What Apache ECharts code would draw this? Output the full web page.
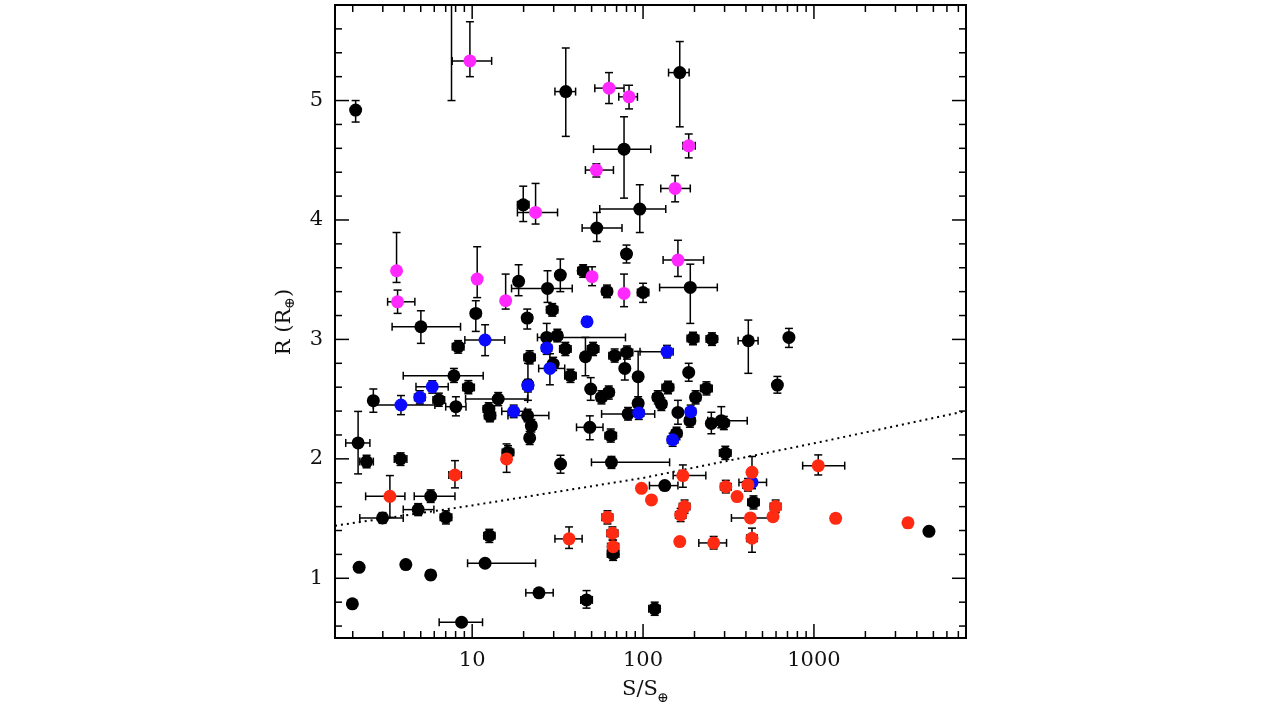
<!DOCTYPE html>
<html>
<head>
<meta charset="utf-8">
<script src="https://cdn.jsdelivr.net/npm/echarts@6/dist/echarts.min.js"></script>
<style>
  html, body { margin: 0; padding: 0; background: #fff; }
  #chart { width: 1279px; height: 714px; }
</style>
</head>
<body>
<div id="chart"></div>
<script>
// each row: [S, R, S low, S high, R low, R high]  (0 = no error bar drawn)
var blackPts = [
  [2.08, 4.92, 0, 0, 4.82, 5.00],
  [7.57, 6.30, 0, 0, 5.00, 6.60],
  [35.3, 5.075, 30.5, 40.3, 4.70, 5.44],
  [77.4, 4.593, 51.3, 110.9, 4.183, 4.864],
  [19.9, 4.127, 18.4, 21.5, 3.987, 4.283],
  [95.7, 4.091, 55.8, 135.8, 3.895, 4.295],
  [53.6, 3.932, 44.0, 75.3, 3.82, 4.063],
  [164, 5.234, 141, 186, 4.78, 5.494],
  [80, 3.715, 75, 85, 3.64, 3.79],
  [5.01, 3.106, 3.40, 8.55, 2.967, 3.24],
  [10.5, 3.218, 9.9, 11.2, 3.067, 3.324],
  [18.7, 3.486, 17.6, 19.8, 3.366, 3.625],
  [27.6, 3.427, 17.0, 38.5, 3.31, 3.575],
  [32.8, 3.539, 31.0, 34.6, 3.40, 3.673],
  [44.6, 3.575, 41.5, 47.8, 3.52, 3.625],
  [61.5, 3.402, 57.5, 65.5, 3.35, 3.455],
  [100, 3.393, 92.7, 108, 3.31, 3.47],
  [29.4, 3.248, 27.2, 31.7, 3.195, 3.30],
  [21.0, 3.179, 19.7, 22.4, 3.087, 3.254],
  [8.28, 2.939, 7.65, 8.95, 2.885, 2.99],
  [27.3, 3.017, 24.1, 78.9, 2.93, 3.134],
  [31.5, 3.031, 29.5, 33.6, 2.98, 3.085],
  [35.1, 2.92, 32.5, 37.9, 2.865, 2.975],
  [51.0, 2.92, 47.2, 55.1, 2.865, 2.975],
  [46.0, 2.855, 43.5, 48.6, 2.696, 3.017],
  [21.7, 2.849, 20.1, 23.4, 2.795, 2.905],
  [68.2, 2.864, 63.1, 73.7, 2.81, 2.92],
  [80.5, 2.891, 74.5, 87.0, 2.835, 2.945],
  [29.8, 2.794, 28.0, 31.7, 2.74, 2.85],
  [78.2, 2.757, 74.5, 82.0, 2.66, 2.88],
  [37.6, 2.696, 34.8, 40.6, 2.64, 2.75],
  [93.6, 2.688, 0, 0, 2.49, 2.90],
  [7.82, 2.696, 3.95, 11.6, 2.64, 2.757],
  [9.5, 2.598, 8.8, 10.3, 2.545, 2.655],
  [6.38, 2.493, 5.9, 6.9, 2.44, 2.55],
  [2.64, 2.487, 0, 0, 2.39, 2.585],
  [8.03, 2.437, 7.0, 9.2, 2.36, 2.52],
  [14.2, 2.501, 9.15, 21.1, 2.445, 2.555],
  [12.5, 2.417, 11.6, 13.5, 2.36, 2.47],
  [12.7, 2.362, 11.8, 13.7, 2.31, 2.415],
  [21.2, 2.621, 0, 0, 2.49, 2.80],
  [21.1, 2.362, 16.2, 28.1, 2.31, 2.415],
  [22.2, 2.278, 20.8, 23.7, 2.225, 2.33],
  [21.7, 2.175, 0, 0, 2.12, 2.23],
  [48.8, 2.264, 40.8, 58.3, 2.16, 2.36],
  [64.7, 2.194, 59.9, 69.9, 2.14, 2.25],
  [49.4, 2.585, 0, 0, 2.49, 2.68],
  [57.1, 2.515, 53.5, 61, 2.46, 2.57],
  [63.0, 2.557, 59, 67.3, 2.50, 2.61],
  [81.7, 2.376, 57.2, 117, 2.325, 2.43],
  [93.6, 2.465, 88, 99.5, 2.41, 2.52],
  [2.15, 2.133, 1.82, 2.52, 1.874, 2.397],
  [189, 3.435, 125, 272, 3.134, 3.63],
  [196, 3.008, 181, 212, 2.955, 3.06],
  [253, 3.003, 234, 273, 2.95, 3.055],
  [413, 2.989, 360, 471, 2.716, 3.162],
  [714, 3.017, 0, 0, 2.933, 3.092],
  [185, 2.724, 0, 0, 2.65, 2.80],
  [611, 2.618, 0, 0, 2.55, 2.69],
  [140, 2.598, 129, 151, 2.545, 2.65],
  [235, 2.59, 217, 254, 2.535, 2.645],
  [122, 2.515, 114, 130, 2.46, 2.57],
  [128, 2.459, 120, 137, 2.405, 2.51],
  [203, 2.515, 190, 217, 2.46, 2.57],
  [160, 2.389, 0, 0, 2.29, 2.49],
  [188, 2.32, 176, 201, 2.265, 2.375],
  [251, 2.297, 0, 0, 2.21, 2.39],
  [287, 2.32, 239, 407, 2.26, 2.437],
  [297, 2.30, 278, 318, 2.245, 2.355],
  [157, 2.213, 147, 168, 2.16, 2.265],
  [2.41, 1.977, 2.2, 2.64, 1.925, 2.03],
  [3.81, 1.999, 3.5, 4.15, 1.945, 2.05],
  [16.2, 2.054, 15.0, 17.5, 2.0, 2.11],
  [32.9, 1.957, 0, 0, 1.88, 2.03],
  [65.3, 1.971, 49.9, 143, 1.92, 2.02],
  [5.72, 1.686, 4.58, 7.93, 1.635, 1.74],
  [4.83, 1.575, 3.95, 5.97, 1.525, 1.625],
  [2.99, 1.505, 2.20, 3.95, 1.46, 1.55],
  [7.02, 1.51, 6.5, 7.6, 1.455, 1.565],
  [12.6, 1.357, 11.7, 13.6, 1.30, 1.41],
  [66.8, 1.204, 61.8, 72.2, 1.15, 1.26],
  [2.18, 1.092, 0, 0, 0, 0],
  [4.09, 1.115, 0, 0, 0, 0],
  [5.72, 1.028, 0, 0, 0.99, 1.065],
  [11.9, 1.126, 9.4, 23.5, 0, 0],
  [1.99, 0.786, 0, 0, 0, 0],
  [8.67, 0.632, 6.41, 11.5, 0, 0],
  [24.6, 0.878, 20.6, 29.8, 0, 0],
  [46.7, 0.819, 43.2, 50.5, 0.75, 0.897],
  [117, 0.744, 108, 126, 0.69, 0.80],
  [303, 2.049, 280, 327, 1.995, 2.105],
  [134, 1.776, 109, 160, 0, 0],
  [443, 1.636, 410, 478, 1.58, 1.69],
  [4710, 1.393, 0, 0, 0, 0]
];

var magentaPts = [
  [9.7, 5.332, 7.64, 13.0, 5.20, 5.66],
  [63.2, 5.104, 52.2, 77.4, 4.975, 5.234],
  [82.8, 5.031, 72.1, 92.7, 4.93, 5.128],
  [53.3, 4.418, 46.0, 67.1, 4.36, 4.47],
  [23.5, 4.063, 18.4, 31.6, 3.966, 4.306],
  [185, 4.621, 171, 202, 4.52, 4.72],
  [154, 4.264, 127, 189, 4.152, 4.372],
  [3.61, 3.575, 0, 0, 3.477, 3.895],
  [3.66, 3.315, 3.20, 4.62, 3.218, 3.413],
  [10.7, 3.505, 0, 0, 3.35, 3.776],
  [15.7, 3.324, 14.9, 16.6, 3.254, 3.547],
  [50.3, 3.525, 0, 0, 3.45, 3.608],
  [77.4, 3.385, 0, 0, 3.274, 3.547],
  [160, 3.664, 131, 226, 3.527, 3.83]
];

var bluePts = [
  [47.0, 3.148, 44.5, 49.6, 3.11, 3.19],
  [11.9, 2.995, 9.06, 15.5, 2.864, 3.123],
  [27.3, 2.928, 25.5, 29.2, 2.875, 2.98],
  [28.5, 2.757, 24.5, 34.8, 2.62, 2.88],
  [5.84, 2.604, 4.69, 7.24, 2.55, 2.654],
  [4.94, 2.515, 4.6, 5.3, 2.46, 2.57],
  [3.83, 2.451, 2.64, 6.05, 2.37, 2.53],
  [21.2, 2.613, 19.8, 22.7, 2.56, 2.665],
  [17.5, 2.398, 14.9, 20.5, 2.345, 2.45],
  [94.4, 2.384, 88, 101, 2.33, 2.44],
  [138, 2.897, 96, 150, 2.845, 2.95],
  [190, 2.395, 178, 203, 2.34, 2.45],
  [149, 2.16, 139, 160, 2.105, 2.215],
  [434, 1.803, 364, 528, 1.75, 1.855]
];

var redPts = [
  [7.93, 1.865, 7.3, 8.65, 1.757, 1.985],
  [15.9, 1.999, 15.0, 16.9, 1.887, 2.125],
  [3.30, 1.686, 2.38, 4.04, 1.51, 1.86],
  [36.9, 1.33, 30.5, 44.0, 1.25, 1.43],
  [61.9, 1.51, 57.5, 66.5, 1.455, 1.565],
  [66.2, 1.377, 61.5, 71.2, 1.32, 1.43],
  [66.8, 1.265, 62, 72, 1.21, 1.32],
  [97.9, 1.753, 0, 0, 0, 0],
  [112, 1.656, 0, 0, 0, 0],
  [171, 1.86, 150, 233, 1.762, 1.949],
  [175, 1.6, 163, 188, 1.545, 1.655],
  [166, 1.53, 155, 178, 1.475, 1.585],
  [164, 1.307, 0, 0, 0, 0],
  [259, 1.296, 212, 308, 1.245, 1.35],
  [305, 1.767, 284, 328, 1.715, 1.82],
  [355, 1.684, 0, 0, 0, 0],
  [434, 1.887, 0, 0, 1.78, 2.02],
  [411, 1.782, 383, 441, 1.73, 1.835],
  [425, 1.505, 329, 551, 0, 0],
  [434, 1.335, 404, 466, 1.218, 1.42],
  [597, 1.6, 555, 641, 1.55, 1.655],
  [576, 1.516, 0, 0, 0, 0],
  [1060, 1.943, 859, 1514, 1.865, 2.033],
  [1340, 1.502, 0, 0, 1.465, 1.54],
  [3550, 1.464, 0, 0, 1.425, 1.50]
];

// dotted boundary
var lineS = [1.575, 10, 100, 1000, 7760];
var lineR = [1.44, 1.61, 1.84, 2.13, 2.40];

var xMin = 1.575, xMax = 7760, yMin = 0.5, yMax = 5.8;
var xMajor = [10, 100, 1000];
var xMinor = [2, 3, 4, 5, 6, 7, 8, 9, 20, 30, 40, 50, 60, 70, 80, 90,
  200, 300, 400, 500, 600, 700, 800, 900, 2000, 3000, 4000, 5000, 6000, 7000];
var yMajor = [1, 2, 3, 4, 5];
var yMinor = [0.6, 0.8, 1.2, 1.4, 1.6, 1.8, 2.2, 2.4, 2.6, 2.8, 3.2, 3.4, 3.6, 3.8,
  4.2, 4.4, 4.6, 4.8, 5.2, 5.4, 5.6];

var FONT = 'DejaVu Serif';

function renderErr(params, api) {
  var s = api.value(0), r = api.value(1);
  var sLo = api.value(2), sHi = api.value(3), rLo = api.value(4), rHi = api.value(5);
  var cap = 4;
  var st = { stroke: '#000', lineWidth: 1.5 };
  var ch = [];
  function seg(x1, y1, x2, y2) {
    ch.push({ type: 'line', shape: { x1: x1, y1: y1, x2: x2, y2: y2 }, style: st });
  }
  if (sLo > 0 && sHi > 0) {
    var a = api.coord([sLo, r]), b = api.coord([sHi, r]);
    seg(a[0], a[1], b[0], b[1]);
    seg(a[0], a[1] - cap, a[0], a[1] + cap);
    seg(b[0], b[1] - cap, b[0], b[1] + cap);
  }
  if (rLo > 0 && rHi > 0) {
    var c = api.coord([s, rLo]), d = api.coord([s, rHi]);
    seg(c[0], c[1], d[0], d[1]);
    seg(c[0] - cap, c[1], c[0] + cap, c[1]);
    seg(d[0] - cap, d[1], d[0] + cap, d[1]);
  }
  return { type: 'group', children: ch };
}

function renderTicks(params, api) {
  var ch = [];
  var st = { stroke: '#000', lineWidth: 1.5 };
  function seg(x1, y1, x2, y2) {
    ch.push({ type: 'line', shape: { x1: x1, y1: y1, x2: x2, y2: y2 }, style: st });
  }
  function xt(v, len) {
    var b = api.coord([v, yMin]), t = api.coord([v, yMax]);
    seg(b[0], b[1], b[0], b[1] - len);
    seg(t[0], t[1], t[0], t[1] + len);
  }
  function yt(v, len) {
    var l = api.coord([xMin, v]), r = api.coord([xMax, v]);
    seg(l[0], l[1], l[0] + len, l[1]);
    seg(r[0], r[1], r[0] - len, r[1]);
  }
  xMajor.forEach(function (v) { xt(v, 14); });
  xMinor.forEach(function (v) { xt(v, 7); });
  yMajor.forEach(function (v) { yt(v, 14); });
  yMinor.forEach(function (v) { yt(v, 7); });
  return { type: 'group', children: ch };
}

var allPts = blackPts.concat(magentaPts, bluePts, redPts);

function pts(rows) { return rows.map(function (p) { return [p[0], p[1]]; }); }

var chart = echarts.init(document.getElementById('chart'));
chart.setOption({
  animation: false,
  backgroundColor: '#fff',
  grid: { left: 335, top: 5, width: 631, height: 633, show: true, borderColor: '#000', borderWidth: 2 },
  xAxis: {
    type: 'log', logBase: 10, min: xMin, max: xMax,
    axisLine: { show: true, lineStyle: { color: '#000', width: 2 } },
    axisTick: { show: false },
    splitLine: { show: false },
    axisLabel: {
      margin: 12, color: '#111', fontFamily: FONT, fontSize: 21,
      showMinLabel: false, showMaxLabel: false,
      formatter: function (v) {
        var k = Math.round(Math.log10(v));
        return (Math.abs(Math.log10(v) - k) < 1e-6 && k >= 1) ? String(Math.pow(10, k)) : '';
      }
    }
  },
  yAxis: {
    type: 'value', min: yMin, max: yMax, interval: 0.5,
    axisLine: { show: true, lineStyle: { color: '#000', width: 2 } },
    axisTick: { show: false },
    splitLine: { show: false },
    axisLabel: {
      margin: 12, color: '#111', fontFamily: FONT, fontSize: 21,
      formatter: function (v) {
        return Math.abs(v - Math.round(v)) < 1e-6 ? String(Math.round(v)) : '';
      }
    }
  },
  graphic: [
    { type: 'text', x: 640, y: 690, style: { text: 'S/S', font: '21px "DejaVu Serif"', fill: '#111', textAlign: 'center', textVerticalAlign: 'middle' } },
    { type: 'text', x: 663, y: 698, style: { text: '\u2295', font: '14px "DejaVu Serif"', fill: '#111', textAlign: 'center', textVerticalAlign: 'middle' } },
    { type: 'text', x: 285, y: 322, rotation: Math.PI / 2,
      style: { text: '{a|R (R}{b|\u2295}{a|)}', textAlign: 'center', textVerticalAlign: 'middle',
        rich: { a: { font: '21px "DejaVu Serif"', fill: '#111' },
                b: { font: '14px "DejaVu Serif"', fill: '#111', padding: [10, 0, 0, 0] } } } }
  ],
  series: [
    { type: 'line', data: lineS.map(function (s, i) { return [s, lineR[i]]; }),
      showSymbol: false, silent: true, z: 1,
      lineStyle: { color: '#000', width: 2, type: [2, 4] } },
    { type: 'custom', renderItem: renderErr, data: allPts, clip: true, silent: true, z: 2,
      encode: { x: 0, y: 1 } },
    { type: 'scatter', data: pts(blackPts), symbolSize: 13, z: 3, silent: true,
      itemStyle: { color: '#000', opacity: 1 } },
    { type: 'scatter', data: pts(magentaPts), symbolSize: 13, z: 4, silent: true,
      itemStyle: { color: '#ff28ff', opacity: 1 } },
    { type: 'scatter', data: pts(bluePts), symbolSize: 13, z: 4, silent: true,
      itemStyle: { color: '#0a0aff', opacity: 1 } },
    { type: 'scatter', data: pts(redPts), symbolSize: 13, z: 4, silent: true,
      itemStyle: { color: '#ff2a12', opacity: 1 } },
    { type: 'custom', renderItem: renderTicks, data: [[10, 1]], clip: false, silent: true, z: 5,
      encode: { x: 0, y: 1 } }
  ]
});
</script>
</body>
</html>
